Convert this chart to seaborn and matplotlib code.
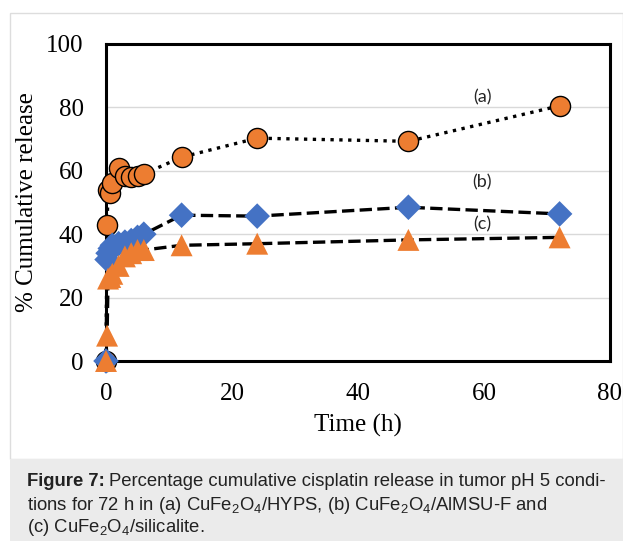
import matplotlib
matplotlib.use("Agg")
import matplotlib.pyplot as plt
import seaborn as sns
import pandas as pd
from matplotlib.patches import Rectangle

# ---- data ----
times = [0, 0.17, 0.33, 0.67, 1, 2, 3, 4, 5, 6, 12, 24, 48, 72]
release_a = [0, 43, 54, 53, 56, 61, 58.5, 58, 58.5, 59, 64.3, 70.3, 69.3, 80.5]
release_b = [0, 32, 34, 35.5, 36.5, 37, 37.5, 38, 39, 40, 46, 45.7, 48.5, 46.4]
release_c = [0, 8, 26, 26.5, 27.5, 30, 33, 34, 35, 35, 36.5, 37, 38.2, 39]
series_labels = ["(a)", "(b)", "(c)"]
label_pos_x = [59.7, 59.7, 59.7]
label_pos_y = [83.2, 56.3, 43.0]
x_ticks = [0, 20, 40, 60, 80]
y_ticks = [0, 20, 40, 60, 80, 100]

df = pd.DataFrame({
    "time": times * 3,
    "release": release_a + release_b + release_c,
    "series": ["a"] * len(times) + ["b"] * len(times) + ["c"] * len(times),
})

sns.set_theme(style="white")
plt.rcParams["font.family"] = ["Liberation Serif", "DejaVu Serif"]
plt.rcParams["mathtext.fontset"] = "custom"
plt.rcParams["mathtext.rm"] = "Liberation Sans"
plt.rcParams["mathtext.it"] = "Liberation Sans:italic"
plt.rcParams["mathtext.bf"] = "Liberation Sans:bold"

W, H = 623, 547
fig = plt.figure(figsize=(W / 100, H / 100), dpi=100)
fig.patch.set_facecolor("white")

# frame and caption box
fig.patches.append(Rectangle((10 / W, 1 - 459 / H), 1 - 10 / W, (459 - 13) / H,
                             transform=fig.transFigure, facecolor="none",
                             edgecolor="#dddddd", linewidth=1, zorder=-5))
fig.patches.append(Rectangle((10 / W, 1 - 541 / H), 1 - 10 / W, (541 - 459) / H,
                             transform=fig.transFigure, facecolor="#ebebeb",
                             edgecolor="none", zorder=-5))

ax = fig.add_axes([106 / W, 1 - 361 / H, (610 - 106) / W, (361 - 44) / H])
ax.set_zorder(2)
ax.set_facecolor("white")

styles = {"a": ":", "b": "--", "c": "--"}
for s in ["a", "b", "c"]:
    sub = df[df["series"] == s]
    sns.lineplot(data=sub, x="time", y="release", ax=ax, color="black",
                 linestyle=styles[s], linewidth=2.4, estimator=None, sort=False,
                 zorder=3, legend=False, clip_on=False)

sns.scatterplot(data=df[df["series"] == "a"], x="time", y="release", ax=ax,
                marker="o", s=210, color="#ED7D31", edgecolor="black",
                linewidth=1.0, zorder=4, legend=False, clip_on=False)
sns.scatterplot(data=df[df["series"] == "b"], x="time", y="release", ax=ax,
                marker="D", s=170, color="#4472C4", edgecolor="none",
                linewidth=0, zorder=5, legend=False, clip_on=False)
sns.scatterplot(data=df[df["series"] == "c"], x="time", y="release", ax=ax,
                marker="^", s=250, color="#ED7D31", edgecolor="none",
                linewidth=0, zorder=6, legend=False, clip_on=False)

for lab, lx, ly in zip(series_labels, label_pos_x, label_pos_y):
    ax.text(lx, ly, lab, fontsize=13, ha="center", va="center",
            family=["Lato", "Liberation Sans", "DejaVu Sans"], zorder=7)

ax.set_xlim(0, 80)
ax.set_ylim(0, 100)
ax.set_xticks(x_ticks)
ax.set_yticks(y_ticks)
ax.tick_params(axis="both", length=0, labelsize=18, colors="black")
ax.tick_params(axis="x", pad=16)
ax.tick_params(axis="y", pad=16)
ax.grid(axis="y", color="#d9d9d9", linewidth=1.0, zorder=0)
ax.set_axisbelow(True)
for sp in ax.spines.values():
    sp.set_visible(True)
    sp.set_color("black")
    sp.set_linewidth(2.2)
    sp.set_zorder(2.5)
ax.set_xlabel("Time (h)", fontsize=18, color="black", labelpad=6)
ax.set_ylabel("% Cumulative release", fontsize=18, color="black", labelpad=6)

cap_kw = dict(fontsize=13.35, color="#222222", va="center",
              family=["Liberation Sans", "DejaVu Sans"], transform=fig.transFigure)
t_bold = fig.text(27 / W, 1 - 482 / H, "Figure 7:", fontweight="bold", ha="left", **cap_kw)
renderer = fig.canvas.get_renderer()
bb = t_bold.get_window_extent(renderer=renderer)
fig.text(bb.x1 / W + 4 / W, 1 - 482 / H,
         "Percentage cumulative cisplatin release in tumor pH 5 condi-", ha="left", **cap_kw)
fig.text(27 / W, 1 - 506 / H,
         r"tions for 72 h in (a) CuFe$_2$O$_4$/HYPS, (b) CuFe$_2$O$_4$/AlMSU-F and", ha="left", **cap_kw)
fig.text(27 / W, 1 - 528 / H,
         r"(c) CuFe$_2$O$_4$/silicalite.", ha="left", **cap_kw)

fig.savefig("out.png", dpi=100, facecolor=fig.get_facecolor())
